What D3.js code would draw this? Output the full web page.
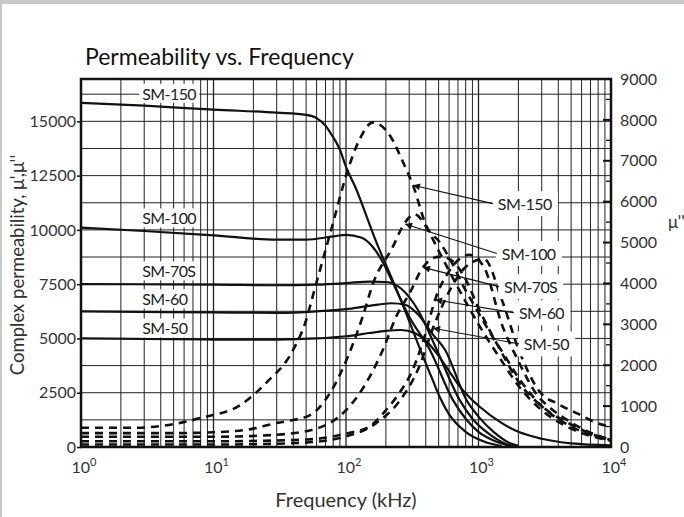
<!DOCTYPE html>
<html>
<head>
<meta charset="utf-8">
<script src="https://cdn.jsdelivr.net/npm/d3@7"></script>
<style>
  body { margin: 0; background: #fff; }
  text { font-family: Lato, "Open Sans", sans-serif; }
</style>
</head>
<body>
<div class="chart"></div>
<script>
// ---- data ----
const freqTicks = [1, 10, 100, 1000, 10000];
const leftTicks = [0, 2500, 5000, 7500, 10000, 12500, 15000];
const rightTicks = [0, 1000, 2000, 3000, 4000, 5000, 6000, 7000, 8000, 9000];
const materials = ['SM-150', 'SM-100', 'SM-70S', 'SM-60', 'SM-50'];

// real part mu' [kHz, value] (left axis)
const muRealSM150 = [[1,15850],[3,15720],[10,15540],[30,15400],[50,15300],[60,15150],[70,14800],[76,14480],[90,13690],[100,12900],[120,11850],[143,10620],[170,9410],[203,8310],[241,7240],[300,5800],[364,4470],[450,3100],[510,2300],[600,1500],[800,700],[1100,250],[1500,40]];
const muRealSM100 = [[1,10100],[3,9950],[10,9750],[30,9550],[50,9550],[80,9700],[100,9770],[130,9650],[160,9200],[190,8500],[226,7560],[300,6000],[430,4470],[640,2170],[800,1300],[1000,700],[1300,300],[1700,60]];
const muRealSM70S = [[1,7500],[10,7480],[30,7450],[60,7480],[100,7550],[150,7620],[200,7600],[260,7300],[350,6300],[485,4470],[720,2170],[900,1300],[1200,600],[1600,150],[1900,30]];
const muRealSM60 = [[1,6250],[10,6200],[30,6180],[60,6250],[100,6350],[150,6500],[220,6620],[280,6550],[350,6100],[450,5200],[560,4470],[810,2170],[1000,1400],[1300,700],[1700,200],[2000,50]];
const muRealSM50 = [[1,5000],[10,4950],[30,4950],[60,5000],[100,5100],[150,5250],[200,5350],[260,5390],[330,5250],[400,4900],[500,4200],[600,3500],[700,2900],[850,2300],[1000,1900],[1500,1100],[2000,700],[3000,380],[5000,170],[10000,80]];

// imaginary part mu'' [kHz, value] (right axis)
const muImagSM150 = [[1,470],[2.5,470],[5,560],[8,710],[16,1030],[25,1570],[40,2380],[50,3100],[57,3770],[80,5490],[100,6630],[127,7530],[160,7940],[215,7610],[270,6960],[322,6380],[405,5400],[512,5000],[610,4590],[770,3930],[970,3360],[1220,2800],[1530,2300],[2000,1700],[3000,1000],[5000,500],[10000,160]];
const muImagSM100 = [[1,340],[5,340],[10,360],[20,450],[30,590],[40,660],[55,800],[75,1300],[100,2100],[134,3200],[160,4000],[226,4900],[268,5400],[330,5690],[400,5400],[500,4800],[700,3900],[1000,3000],[1500,2100],[2000,1500],[3000,900],[5000,450],[10000,150]];
const muImagSM70S = [[1,250],[10,250],[30,300],[60,450],[100,900],[150,1700],[190,2380],[240,3200],[303,3770],[380,4390],[500,4650],[600,4600],[800,4100],[1000,3400],[1500,2300],[2000,1600],[3000,1000],[5000,550],[7000,330],[10000,170]];
const muImagSM60 = [[1,140],[10,140],[30,160],[60,200],[100,330],[150,500],[200,900],[250,1300],[320,1900],[400,2800],[470,3600],[600,4300],[850,4700],[1100,4400],[1500,3000],[2000,2100],[2800,1250],[3500,950],[5000,600],[7000,350],[10000,180]];
const muImagSM50 = [[1,60],[10,60],[30,80],[60,130],[90,220],[170,590],[250,1100],[350,1900],[470,3040],[600,3800],[800,4400],[1100,4600],[1500,3600],[2000,2400],[2900,1350],[4000,1050],[5500,830],[7800,590],[10000,490]];

const realSeries = [muRealSM150, muRealSM100, muRealSM70S, muRealSM60, muRealSM50];
const imagSeries = [muImagSM150, muImagSM100, muImagSM70S, muImagSM60, muImagSM50];

// annotation anchors: left labels [kHz, mu'], right labels [kHz, mu''], arrow tip frequency on mu'' curve
const leftLabelAnchor = [[2.9,16250],[2.9,10510],[2.9,8070],[2.9,6780],[2.9,5440]];
const rightLabelAnchor = [[1400,5930],[1500,4710],[1560,3900],[2020,3260],[2200,2500]];
const arrowTipFreq = [320, 279, 381, 470, 454];

// ---- layout ----
const W = 684, H = 517;
const plot = { left: 81, right: 611, top: 79, bottom: 447 };

const x = d3.scaleLog().domain([1, 10000]).range([plot.left, plot.right]);
const yL = d3.scaleLinear().domain([0, 16950]).range([plot.bottom, plot.top]);
const yR = d3.scaleLinear().domain([0, 9000]).range([plot.bottom, plot.top]);

const svg = d3.select('.chart')
    .append('svg')
    .attr('width', W)
    .attr('height', H);

// gray frame at the top and left edge
svg.append('rect').attr('x', 0).attr('y', 0).attr('width', W).attr('height', 4).attr('fill', '#c8c8c8');
svg.append('rect').attr('x', 0).attr('y', 0).attr('width', 2).attr('height', H).attr('fill', '#c8c8c8');

// title
svg.append('text')
    .attr('x', 85).attr('y', 65)
    .attr('font-size', 23)
    .attr('fill', '#111')
    .text('Permeability vs. Frequency');

// grid
const grid = svg.append('g').attr('stroke', '#222');
const vLines = [];
for (let d = 1; d < 10000; d *= 10) for (let k = 2; k <= 9; k++) vLines.push(d * k);
grid.selectAll('.vgrid')
    .data(vLines)
    .enter()
    .append('line')
    .attr('x1', d => x(d)).attr('x2', d => x(d))
    .attr('y1', plot.top).attr('y2', plot.bottom)
    .attr('stroke-width', 1);
grid.selectAll('.dgrid')
    .data(freqTicks.slice(1, -1))
    .enter()
    .append('line')
    .attr('x1', d => x(d)).attr('x2', d => x(d))
    .attr('y1', plot.top).attr('y2', plot.bottom)
    .attr('stroke-width', 1.3);
grid.selectAll('.hgrid')
    .data(d3.range(1250, 16900, 1250))
    .enter()
    .append('line')
    .attr('x1', plot.left).attr('x2', plot.right)
    .attr('y1', d => yL(d)).attr('y2', d => yL(d))
    .attr('stroke-width', 1);

// right axis inner ticks
svg.append('g')
    .selectAll('line')
    .data(d3.range(500, 9000, 500))
    .enter()
    .append('line')
    .attr('x1', d => plot.right - (d % 1000 === 0 ? 8 : 5))
    .attr('x2', plot.right)
    .attr('y1', d => yR(d)).attr('y2', d => yR(d))
    .attr('stroke', '#111')
    .attr('stroke-width', d => d % 1000 === 0 ? 2 : 1.3);

// curves
const line = d3.line()
    .x(d => x(d[0]))
    .curve(d3.curveMonotoneX);

svg.append('g')
    .selectAll('path')
    .data(realSeries)
    .enter()
    .append('path')
    .attr('d', d => line.y(p => yL(p[1]))(d))
    .attr('fill', 'none')
    .attr('stroke', '#111')
    .attr('stroke-width', 2.2);

svg.append('g')
    .selectAll('path')
    .data(imagSeries)
    .enter()
    .append('path')
    .attr('d', d => line.y(p => yR(p[1]))(d))
    .attr('fill', 'none')
    .attr('stroke', '#111')
    .attr('stroke-width', 2.6)
    .attr('stroke-dasharray', '8,6');

// plot border
svg.append('rect')
    .attr('x', plot.left).attr('y', plot.top)
    .attr('width', plot.right - plot.left).attr('height', plot.bottom - plot.top)
    .attr('fill', 'none')
    .attr('stroke', '#111')
    .attr('stroke-width', 2.5);

// axes
const axisL = svg.append('g')
    .attr('transform', `translate(${plot.left},0)`)
    .call(d3.axisLeft(yL).tickValues(leftTicks).tickSize(4).tickPadding(1).tickFormat(d3.format('d')));
const axisR = svg.append('g')
    .attr('transform', `translate(${plot.right},0)`)
    .call(d3.axisRight(yR).tickValues(rightTicks).tickSize(0).tickPadding(9).tickFormat(d3.format('d')));
const axisB = svg.append('g')
    .attr('transform', `translate(0,${plot.bottom})`)
    .call(d3.axisBottom(x).tickValues(freqTicks).tickSize(0).tickPadding(15).tickFormat(() => ''));

[axisL, axisR, axisB].forEach(g => {
    g.select('.domain').remove();
    g.selectAll('.tick line').attr('stroke', '#111').attr('stroke-width', 1.5);
    g.selectAll('.tick text').attr('font-size', 16).attr('fill', '#333')
        .attr('font-family', 'Lato, sans-serif');
});
axisB.selectAll('.tick text')
    .attr('text-anchor', 'start')
    .attr('x', -10)
    .each(function (d) {
        const t = d3.select(this);
        t.append('tspan').text('10');
        t.append('tspan').attr('dy', -7).attr('font-size', 11).text(Math.round(Math.log10(d)));
    });

// axis titles
svg.append('text')
    .attr('transform', `translate(24,265) rotate(-90)`)
    .attr('text-anchor', 'middle')
    .attr('font-size', 18.5)
    .attr('fill', '#333')
    .text("Complex permeability, \u03bc',\u03bc''");
svg.append('text')
    .attr('x', 668).attr('y', 228)
    .attr('font-size', 17)
    .attr('fill', '#333')
    .text("\u03bc''");
svg.append('text')
    .attr('x', (plot.left + plot.right) / 2).attr('y', 507)
    .attr('text-anchor', 'middle')
    .attr('font-size', 20)
    .attr('fill', '#333')
    .text('Frequency (kHz)');

// labels with white boxes
function boxedLabel(px, py, txt, padX, padY) {
    const g = svg.append('g');
    const r = g.append('rect').attr('fill', '#fff');
    const t = g.append('text')
        .attr('x', px).attr('y', py)
        .attr('dy', '0.35em')
        .attr('font-size', 16)
        .attr('letter-spacing', -0.6)
        .attr('fill', '#222')
        .text(txt);
    const b = t.node().getBBox();
    r.attr('x', b.x - padX).attr('y', b.y - padY)
        .attr('width', b.width + 2 * padX).attr('height', b.height + 2 * padY);
    return b;
}

materials.forEach((m, i) => {
    boxedLabel(x(leftLabelAnchor[i][0]), yL(leftLabelAnchor[i][1]), m, 3, 0);
});

// interpolate a series in log-frequency
function valueAt(series, f) {
    const lf = Math.log10(f);
    for (let i = 1; i < series.length; i++) {
        const a = series[i - 1], b = series[i];
        if (f <= b[0]) {
            const t = (lf - Math.log10(a[0])) / (Math.log10(b[0]) - Math.log10(a[0]));
            return a[1] + t * (b[1] - a[1]);
        }
    }
    return series[series.length - 1][1];
}

svg.append('defs').append('marker')
    .attr('id', 'arrow')
    .attr('viewBox', '0 0 10 10')
    .attr('refX', 10).attr('refY', 5)
    .attr('markerWidth', 9).attr('markerHeight', 7)
    .attr('markerUnits', 'userSpaceOnUse')
    .attr('orient', 'auto')
    .append('path')
    .attr('d', 'M0,0L10,5L0,10Z')
    .attr('fill', '#111');

materials.forEach((m, i) => {
    const b = boxedLabel(x(rightLabelAnchor[i][0]), yR(rightLabelAnchor[i][1]), m, 6, 3);
    const fTip = arrowTipFreq[i];
    svg.append('line')
        .attr('x1', b.x - 5).attr('y1', b.y + b.height / 2)
        .attr('x2', x(fTip)).attr('y2', yR(valueAt(imagSeries[i], fTip)))
        .attr('stroke', '#111')
        .attr('stroke-width', 1.1)
        .attr('marker-end', 'url(#arrow)');
});
</script>
</body>
</html>
